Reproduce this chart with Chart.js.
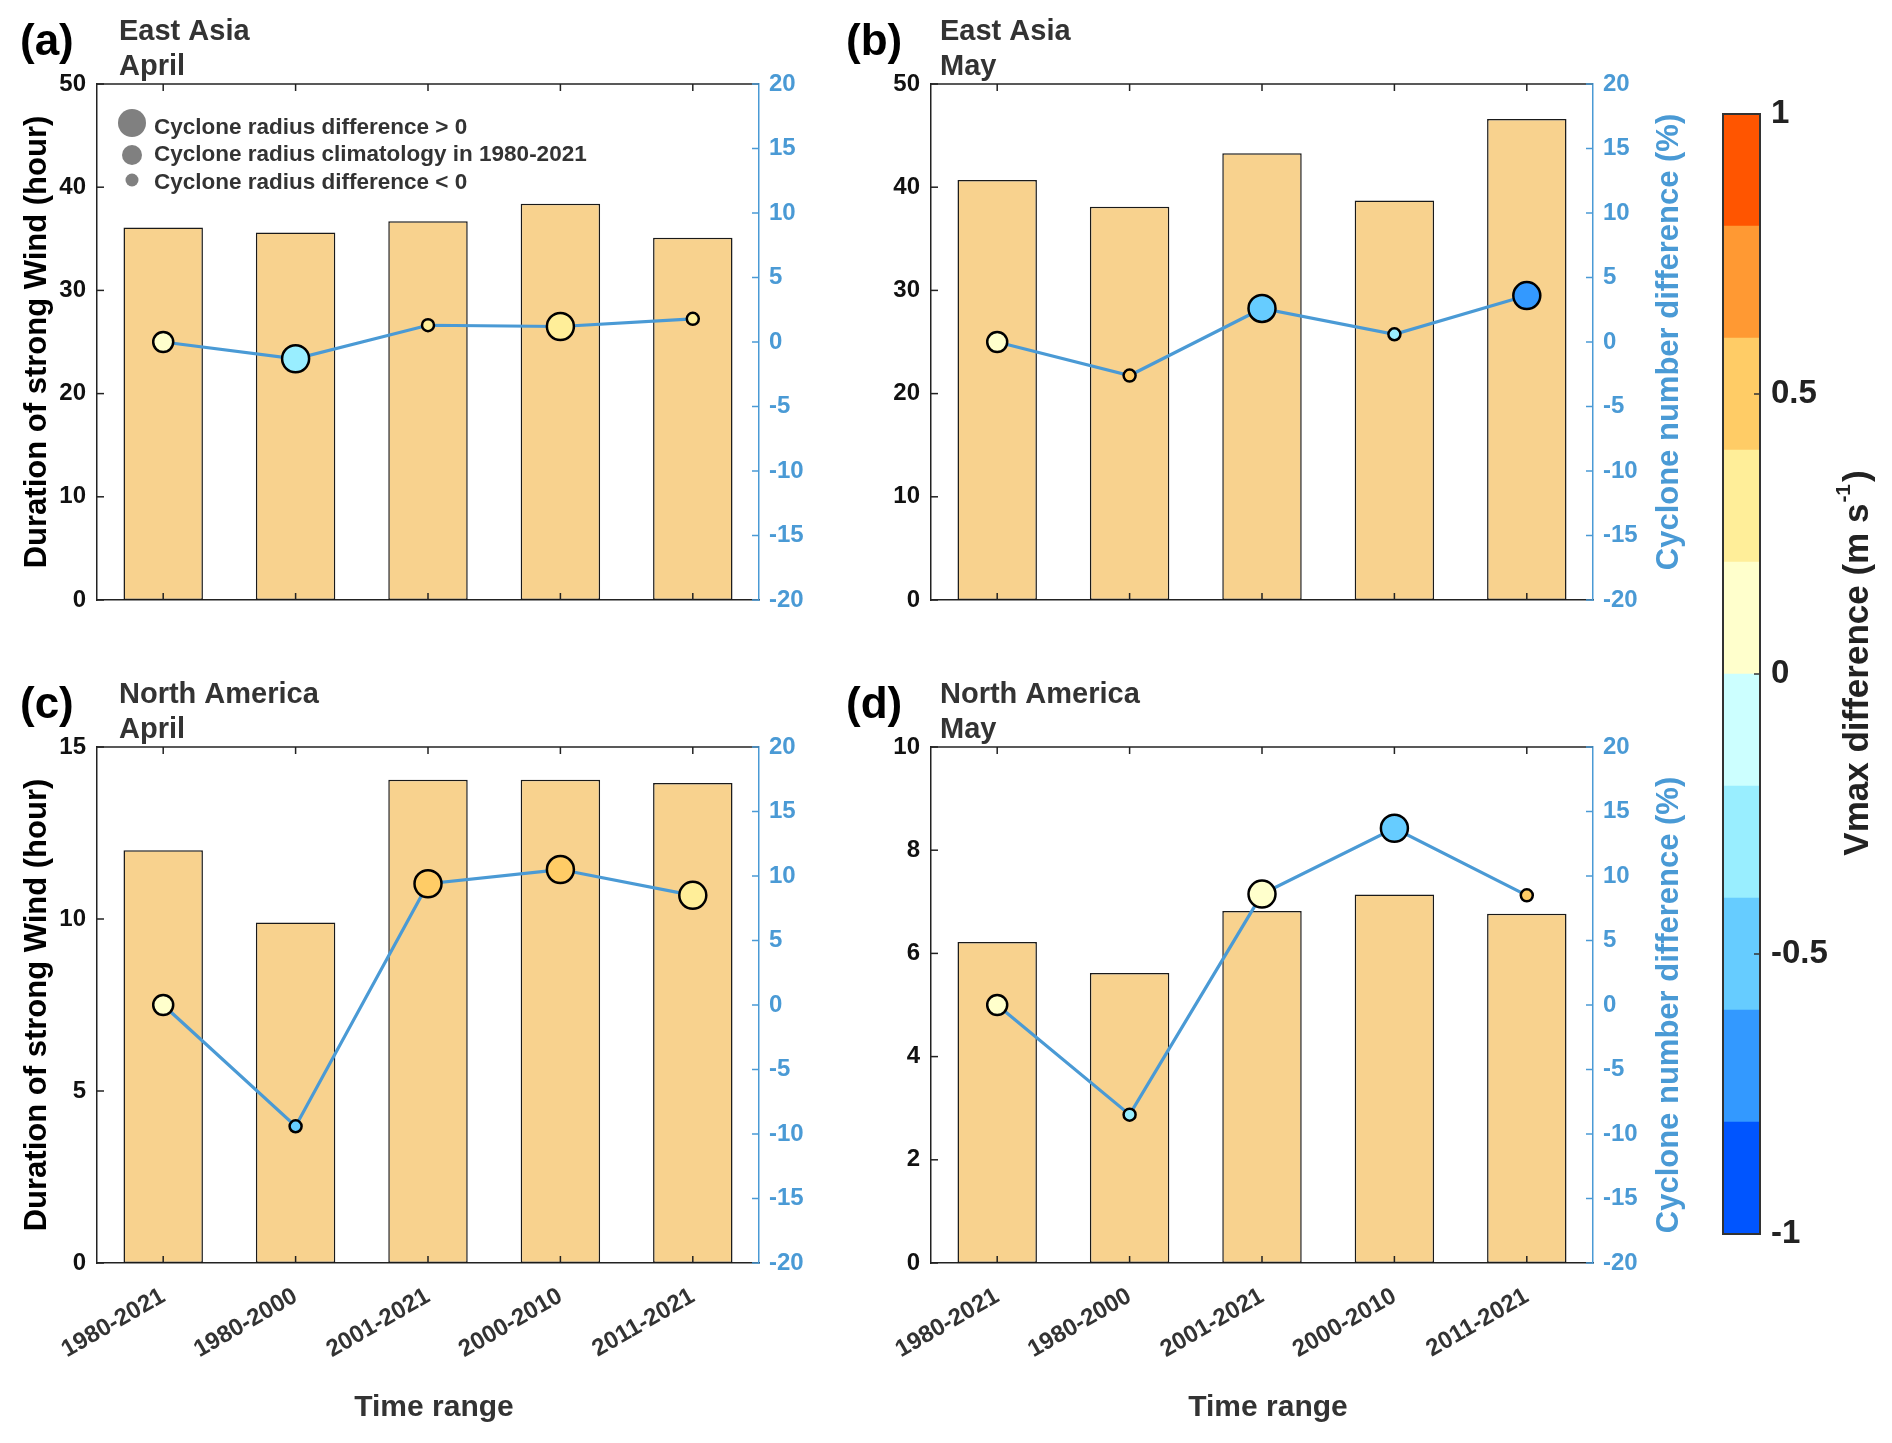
<!DOCTYPE html>
<html>
<head>
<meta charset="utf-8">
<script src="https://cdn.jsdelivr.net/npm/chart.js@4.4.1/dist/chart.umd.min.js"></script>
<style>
html,body{margin:0;padding:0;background:#ffffff;width:1892px;height:1443px;overflow:hidden}
canvas{position:absolute;left:0;top:0}
</style>
</head>
<body>
<canvas id="cA" width="1892" height="1443"></canvas>
<canvas id="cB" width="1892" height="1443"></canvas>
<canvas id="cC" width="1892" height="1443"></canvas>
<canvas id="cD" width="1892" height="1443"></canvas>
<canvas id="cBar" width="1892" height="1443"></canvas>
<script>
// ---------------- DATA ----------------
const categories = ['1980-2021', '1980-2000', '2001-2021', '2000-2010', '2011-2021'];

// Duration of strong wind (hour) - bars
const durationEastAsiaApril = [36.1, 35.6, 36.7, 38.4, 35.1];
const durationEastAsiaMay = [40.7, 38.1, 43.3, 38.7, 46.6];
const durationNorthAmericaApril = [12.0, 9.9, 14.05, 14.05, 13.95];
const durationNorthAmericaMay = [6.22, 5.62, 6.82, 7.14, 6.77];

// Cyclone number difference (%) - line
const numberDiffEastAsiaApril = [0, -1.3, 1.3, 1.2, 1.8];
const numberDiffEastAsiaMay = [0, -2.6, 2.6, 0.6, 3.6];
const numberDiffNorthAmericaApril = [0, -9.4, 9.4, 10.5, 8.5];
const numberDiffNorthAmericaMay = [0, -8.5, 8.6, 13.7, 8.5];

// Vmax difference (m s-1) - marker colour
const vmaxDiffEastAsiaApril = [0.1, -0.3, 0.3, 0.3, 0.3];
const vmaxDiffEastAsiaMay = [0.1, 0.5, -0.5, -0.3, -0.7];
const vmaxDiffNorthAmericaApril = [0.1, -0.5, 0.5, 0.5, 0.3];
const vmaxDiffNorthAmericaMay = [0.1, -0.3, 0.1, -0.5, 0.5];

// Sign of cyclone radius difference (0 = climatology 1980-2021) - marker size class
const radiusSignEastAsiaApril = [0, 1, -1, 1, -1];
const radiusSignEastAsiaMay = [0, -1, 1, -1, 1];
const radiusSignNorthAmericaApril = [0, -1, 1, 1, 1];
const radiusSignNorthAmericaMay = [0, -1, 1, 1, -1];

// Tick labels
const durationTicksEastAsia = [0, 10, 20, 30, 40, 50];
const durationTicksNorthAmericaApril = [0, 5, 10, 15];
const durationTicksNorthAmericaMay = [0, 2, 4, 6, 8, 10];
const numberDiffTicks = [-20, -15, -10, -5, 0, 5, 10, 15, 20];

// Colorbar
const colorbarEdges = [-1, -0.8, -0.6, -0.4, -0.2, 0, 0.2, 0.4, 0.6, 0.8, 1];
const colorbarColors = ['#0055FF', '#3399FF', '#66CCFF', '#99EEFF', '#CCFFFF',
                        '#FFFFCC', '#FFEE99', '#FFCC66', '#FF9933', '#FF5500'];
const colorbarTicks = [-1, -0.5, 0, 0.5, 1];

const legendLabels = ['Cyclone radius difference > 0',
                      'Cyclone radius climatology in 1980-2021',
                      'Cyclone radius difference < 0'];

// ---------------- STYLE ----------------
const FONT = '"Liberation Sans", Arial, Helvetica, sans-serif';
const BLUE = '#4A9AD5';
const BAR_FILL = '#F8D28E';
const PAGE_W = 1892, PAGE_H = 1443;
const TICK_LEN = 7;

function colorFor(v) {
  let i = Math.floor((v - colorbarEdges[0]) / 0.2 + 1e-9);
  i = Math.max(0, Math.min(colorbarColors.length - 1, i));
  return colorbarColors[i];
}
function radiusFor(s) { return s > 0 ? 13.5 : (s < 0 ? 6 : 10); }

function line(ctx, x1, y1, x2, y2) {
  ctx.beginPath(); ctx.moveTo(x1, y1); ctx.lineTo(x2, y2); ctx.stroke();
}

function makePanel(id, p) {
  const LW = 60, RW = 60, XH = p.showX ? 130 : 0;
  const decor = {
    id: 'decor_' + id,
    afterDraw(chart) {
      const ctx = chart.ctx, a = chart.chartArea;
      const xs = chart.scales.x, ys = chart.scales.y, y1 = chart.scales.y1;
      ctx.save();
      ctx.lineCap = 'butt';
      // top frame line
      ctx.strokeStyle = '#222'; ctx.lineWidth = 1.5;
      line(ctx, a.left, a.top, a.right, a.top);
      // left ticks (inward)
      ys.ticks.forEach(t => {
        const py = ys.getPixelForValue(t.value);
        line(ctx, a.left, py, a.left + TICK_LEN, py);
      });
      // x ticks (top and bottom, inward)
      categories.forEach((c, i) => {
        const px = xs.getPixelForValue(i);
        line(ctx, px, a.top, px, a.top + TICK_LEN);
        line(ctx, px, a.bottom, px, a.bottom - TICK_LEN);
      });
      // right ticks (inward, blue)
      ctx.strokeStyle = BLUE;
      y1.ticks.forEach(t => {
        const py = y1.getPixelForValue(t.value);
        line(ctx, a.right, py, a.right - TICK_LEN, py);
      });

      // panel label and titles
      ctx.textAlign = 'left'; ctx.textBaseline = 'alphabetic';
      ctx.fillStyle = '#000';
      ctx.font = 'bold 44px ' + FONT;
      ctx.fillText(p.label, p.labelX, a.top - 29);
      ctx.fillStyle = '#333';
      ctx.font = 'bold 29px ' + FONT;
      ctx.fillText(p.title1, p.titleX, a.top - 44);
      ctx.fillText(p.title2, p.titleX, a.top - 9);

      // left axis title
      const cy = (a.top + a.bottom) / 2;
      if (p.leftTitle) {
        ctx.save();
        ctx.translate(a.left - 60, cy);
        ctx.rotate(-Math.PI / 2);
        ctx.textAlign = 'center'; ctx.textBaseline = 'middle';
        ctx.fillStyle = '#000';
        ctx.font = 'bold 31px ' + FONT;
        ctx.fillText('Duration of strong Wind (hour)', 0, 0);
        ctx.restore();
      }
      // right axis title
      if (p.rightTitle) {
        ctx.save();
        ctx.translate(a.right + 76, cy);
        ctx.rotate(-Math.PI / 2);
        ctx.textAlign = 'center'; ctx.textBaseline = 'middle';
        ctx.fillStyle = BLUE;
        ctx.font = 'bold 31px ' + FONT;
        ctx.fillText('Cyclone number difference (%)', 0, 0);
        ctx.restore();
      }
      // x axis title
      if (p.showX) {
        ctx.textAlign = 'center'; ctx.textBaseline = 'middle';
        ctx.fillStyle = '#333';
        ctx.font = 'bold 30px ' + FONT;
        ctx.fillText('Time range', (a.left + a.right) / 2 + 6, a.bottom + 145);
      }
      // legend
      if (p.legend) {
        const cx = a.left + 35;
        const cys = [a.top + 39, a.top + 71, a.top + 96];
        const rs = [14, 10, 6.5];
        const bl = [a.top + 50, a.top + 77, a.top + 105];
        ctx.fillStyle = '#808080';
        rs.forEach((r, i) => { ctx.beginPath(); ctx.arc(cx, cys[i], r, 0, Math.PI * 2); ctx.fill(); });
        ctx.fillStyle = '#333';
        ctx.font = 'bold 22.5px ' + FONT;
        ctx.textAlign = 'left'; ctx.textBaseline = 'alphabetic';
        legendLabels.forEach((t, i) => ctx.fillText(t, a.left + 57, bl[i]));
      }
      ctx.restore();
    }
  };

  return new Chart(document.getElementById(id), {
    data: {
      labels: categories,
      datasets: [
        {
          type: 'line', label: 'Cyclone number difference', data: p.numberDiff, yAxisID: 'y1', order: 0,
          borderColor: BLUE, borderWidth: 3.2, tension: 0, fill: false,
          pointRadius: p.radiusSign.map(radiusFor),
          pointHoverRadius: p.radiusSign.map(radiusFor),
          pointBackgroundColor: p.vmax.map(colorFor),
          pointBorderColor: '#000', pointBorderWidth: 2.5
        },
        {
          type: 'bar', label: 'Duration', data: p.duration, yAxisID: 'y', order: 1,
          backgroundColor: BAR_FILL, borderColor: '#1a1a1a', borderWidth: 1.5, borderSkipped: false,
          barPercentage: 0.6, categoryPercentage: 1.0
        }
      ]
    },
    options: {
      responsive: false, animation: false,
      layout: { padding: { left: p.box.l - LW, right: PAGE_W - p.box.r - RW, top: p.box.t, bottom: PAGE_H - p.box.b - XH } },
      plugins: { legend: { display: false }, tooltip: { enabled: false } },
      scales: {
        x: {
          type: 'category', offset: true,
          grid: { display: false, drawTicks: false, tickLength: 0 },
          border: { display: true, color: '#222', width: 1.5 },
          ticks: { display: p.showX, autoSkip: false, minRotation: 30, maxRotation: 30, padding: 19,
                   color: '#333', font: { family: FONT, size: 24, weight: 'bold' } },
          afterFit: s => { s.height = XH; }
        },
        y: {
          position: 'left',
          min: p.leftTicks[0], max: p.leftTicks[p.leftTicks.length - 1],
          afterBuildTicks: s => { s.ticks = p.leftTicks.map(v => ({ value: v })); },
          grid: { display: false, drawTicks: false, tickLength: 0 },
          border: { display: true, color: '#222', width: 1.5 },
          ticks: { padding: 11, color: '#111', font: { family: FONT, size: 24, weight: 'bold' } },
          afterFit: s => { s.width = LW; }
        },
        y1: {
          position: 'right', min: -20, max: 20,
          afterBuildTicks: s => { s.ticks = numberDiffTicks.map(v => ({ value: v })); },
          grid: { display: false, drawTicks: false, tickLength: 0 },
          border: { display: true, color: BLUE, width: 1.5 },
          ticks: { padding: 10, color: BLUE, font: { family: FONT, size: 24, weight: 'bold' } },
          afterFit: s => { s.width = RW; }
        }
      }
    },
    plugins: [decor]
  });
}

makePanel('cA', {
  box: { l: 97, t: 84, r: 759, b: 600 }, showX: false, leftTitle: true, rightTitle: false, legend: true,
  label: '(a)', labelX: 20, title1: 'East Asia', title2: 'April', titleX: 119,
  duration: durationEastAsiaApril, numberDiff: numberDiffEastAsiaApril, vmax: vmaxDiffEastAsiaApril,
  radiusSign: radiusSignEastAsiaApril, leftTicks: durationTicksEastAsia
});
makePanel('cB', {
  box: { l: 931, t: 84, r: 1593, b: 600 }, showX: false, leftTitle: false, rightTitle: true, legend: false,
  label: '(b)', labelX: 846, title1: 'East Asia', title2: 'May', titleX: 940,
  duration: durationEastAsiaMay, numberDiff: numberDiffEastAsiaMay, vmax: vmaxDiffEastAsiaMay,
  radiusSign: radiusSignEastAsiaMay, leftTicks: durationTicksEastAsia
});
makePanel('cC', {
  box: { l: 97, t: 747, r: 759, b: 1263 }, showX: true, leftTitle: true, rightTitle: false, legend: false,
  label: '(c)', labelX: 20, title1: 'North America', title2: 'April', titleX: 119,
  duration: durationNorthAmericaApril, numberDiff: numberDiffNorthAmericaApril, vmax: vmaxDiffNorthAmericaApril,
  radiusSign: radiusSignNorthAmericaApril, leftTicks: durationTicksNorthAmericaApril
});
makePanel('cD', {
  box: { l: 931, t: 747, r: 1593, b: 1263 }, showX: true, leftTitle: false, rightTitle: true, legend: false,
  label: '(d)', labelX: 846, title1: 'North America', title2: 'May', titleX: 940,
  duration: durationNorthAmericaMay, numberDiff: numberDiffNorthAmericaMay, vmax: vmaxDiffNorthAmericaMay,
  radiusSign: radiusSignNorthAmericaMay, leftTicks: durationTicksNorthAmericaMay
});

// ---------------- COLORBAR ----------------
const CB = { l: 1723, t: 114, r: 1760, b: 1234 };
const cbDecor = {
  id: 'cbDecor',
  afterDraw(chart) {
    const ctx = chart.ctx, a = chart.chartArea, ys = chart.scales.y;
    ctx.save();
    ctx.strokeStyle = '#333'; ctx.lineWidth = 2;
    ctx.strokeRect(a.left, a.top, a.right - a.left, a.bottom - a.top);
    ctx.lineWidth = 1.5;
    colorbarTicks.forEach(v => {
      const py = ys.getPixelForValue(v);
      line(ctx, a.right, py, a.right - 6, py);
    });
    // title, rotated, with superscript
    const main1 = 'Vmax difference (m s', sup = '-1', main2 = ')';
    const fMain = 'bold 35px ' + FONT, fSup = 'bold 21px ' + FONT;
    ctx.font = fMain; const w1 = ctx.measureText(main1).width, w3 = ctx.measureText(main2).width;
    ctx.font = fSup; const w2 = ctx.measureText(sup).width;
    const total = w1 + w2 + 3 + w3;
    ctx.translate(1858, 663);
    ctx.rotate(-Math.PI / 2);
    ctx.fillStyle = '#222';
    ctx.textAlign = 'left'; ctx.textBaseline = 'middle';
    let x0 = -total / 2;
    ctx.font = fMain; ctx.fillText(main1, x0, 0); x0 += w1 + 1;
    ctx.font = fSup; ctx.fillText(sup, x0, -14); x0 += w2 + 2;
    ctx.font = fMain; ctx.fillText(main2, x0, 0);
    ctx.restore();
  }
};
new Chart(document.getElementById('cBar'), {
  type: 'bar',
  data: {
    labels: ['Vmax difference'],
    datasets: colorbarColors.map((col, i) => ({
      label: String(colorbarEdges[i]),
      data: [[colorbarEdges[i], colorbarEdges[i + 1]]],
      backgroundColor: col, borderWidth: 0, grouped: false,
      barPercentage: 1.0, categoryPercentage: 1.0
    }))
  },
  options: {
    responsive: false, animation: false,
    layout: { padding: { left: CB.l, right: PAGE_W - CB.r - 120, top: CB.t, bottom: PAGE_H - CB.b } },
    plugins: { legend: { display: false }, tooltip: { enabled: false } },
    scales: {
      x: { display: false, offset: true },
      y: {
        position: 'right', min: -1, max: 1,
        afterBuildTicks: s => { s.ticks = colorbarTicks.map(v => ({ value: v })); },
        grid: { display: false, drawTicks: false, tickLength: 0 },
        border: { display: false },
        ticks: { padding: 11, color: '#222', font: { family: FONT, size: 33, weight: 'bold' },
                 callback: v => String(v) },
        afterFit: s => { s.width = 120; }
      }
    }
  },
  plugins: [cbDecor]
});
</script>
</body>
</html>
